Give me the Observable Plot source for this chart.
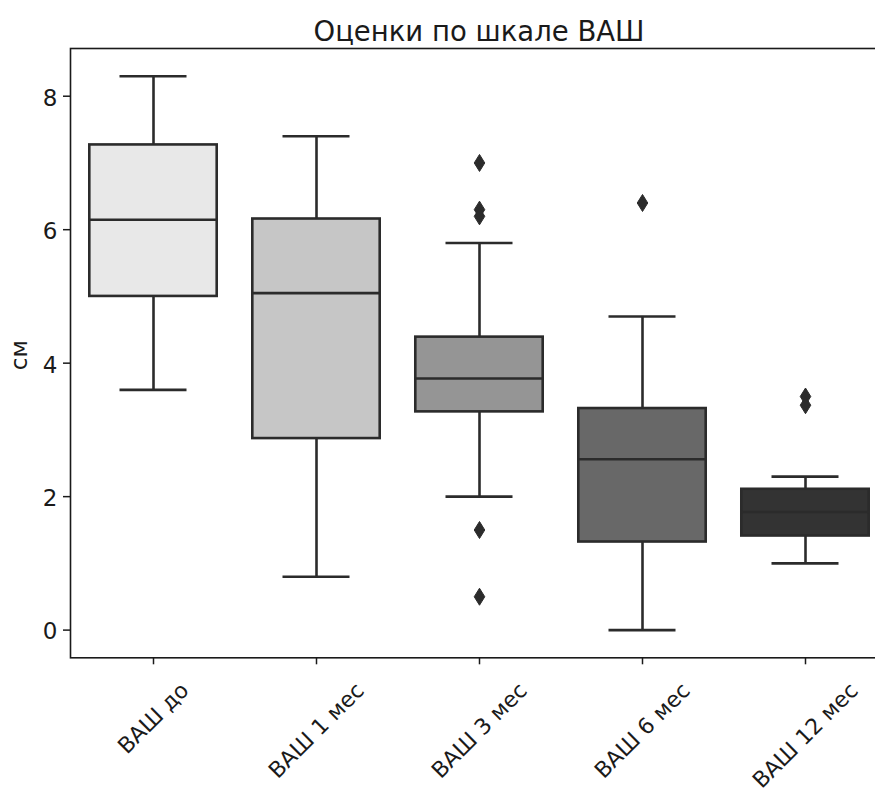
<!DOCTYPE html>
<html><head><meta charset="utf-8">
<script src="https://cdn.jsdelivr.net/npm/d3@7"></script>
<script src="https://cdn.jsdelivr.net/npm/@observablehq/plot@0.6"></script>
<style>
html,body{margin:0;padding:0;background:#fff;overflow:hidden;width:875px;height:789px;}
#title{box-sizing:border-box;height:47px;padding-top:14px;line-height:34px;margin-left:70px;width:818px;text-align:center;font-family:"DejaVu Sans";font-size:27.5px;color:#1a1a1a;white-space:nowrap;}
#chart svg{overflow:visible;}
</style></head><body>
<div id="title">Оценки по шкале ВАШ</div>
<div id="chart"></div>
<script>
// categories and box statistics (cm)
const categories = ["ВАШ до", "ВАШ 1 мес", "ВАШ 3 мес", "ВАШ 6 мес", "ВАШ 12 мес"];
const whiskerLow  = [3.6, 0.8, 2.0, 0.0, 1.0];
const q1          = [5.0, 2.87, 3.27, 1.32, 1.41];
const median      = [6.15, 5.05, 3.77, 2.56, 1.77];
const q3          = [7.27, 6.16, 4.39, 3.32, 2.11];
const whiskerHigh = [8.3, 7.4, 5.8, 4.7, 2.3];
// outliers
const outlierCat = ["ВАШ 3 мес", "ВАШ 3 мес", "ВАШ 3 мес", "ВАШ 3 мес", "ВАШ 3 мес", "ВАШ 6 мес", "ВАШ 12 мес", "ВАШ 12 мес"];
const outlierVal = [7.0, 6.3, 6.2, 1.5, 0.5, 6.4, 3.5, 3.37];
// axis ticks
const yTicks = [0, 2, 4, 6, 8];
const yLabel = "см";

// styles
const palette = ["#e8e8e8", "#c6c6c6", "#959595", "#686868", "#333333"];
const lineColor = "#2b2b2b";
const textColor = "#1a1a1a";
const lw = 2.6;
const fontSize = 23;
const xFontSize = 22;

const boxes = categories.map((c, i) => ({cat: c, lo: whiskerLow[i], q1: q1[i], med: median[i], q3: q3[i], hi: whiskerHigh[i]}));
const outliers = outlierCat.map((c, i) => ({cat: c, v: outlierVal[i]}));

const thinDiamond = {
  draw(ctx, size) {
    const r = Math.sqrt(size / Math.PI), w = r * 0.62;
    ctx.moveTo(0, -r); ctx.lineTo(w, 0); ctx.lineTo(0, r); ctx.lineTo(-w, 0); ctx.closePath();
  }
};

const measure = document.createElement("canvas").getContext("2d");
measure.font = xFontSize + "px 'DejaVu Sans'";
const xLabelMarks = categories.map(c => {
  const L = measure.measureText(c).width;
  return Plot.text([c], {
    x: d => d, text: d => d, frameAnchor: "bottom", rotate: -45,
    textAnchor: "middle", lineAnchor: "middle", dy: 29 + 0.354 * L,
    fontSize: xFontSize, fill: textColor
  });
});

const chart = Plot.plot({
  width: 875,
  height: 742,
  marginTop: 1,
  marginBottom: 131.7,
  marginLeft: 70,
  marginRight: -13,
  style: {fontFamily: "DejaVu Sans", fontSize: fontSize + "px", color: textColor, background: "white"},
  x: {type: "band", domain: categories, paddingInner: 0.2, paddingOuter: 0.1, label: null},
  y: {domain: [-0.415, 8.715], label: null},
  color: {domain: categories, range: palette},
  marks: [
    Plot.ruleX(boxes, {x: "cat", y1: "q3", y2: "hi", stroke: lineColor, strokeWidth: lw}),
    Plot.ruleX(boxes, {x: "cat", y1: "lo", y2: "q1", stroke: lineColor, strokeWidth: lw}),
    Plot.barY(boxes, {x: "cat", y1: "q1", y2: "q3", fill: "cat", stroke: lineColor, strokeWidth: lw, insetLeft: 1.3, insetRight: 1.3}),
    Plot.tickY(boxes, {x: "cat", y: "med", stroke: lineColor, strokeWidth: lw, insetLeft: 1.3, insetRight: 1.3}),
    Plot.tickY(boxes, {x: "cat", y: "hi", stroke: lineColor, strokeWidth: lw, insetLeft: 31.5, insetRight: 31.5}),
    Plot.tickY(boxes, {x: "cat", y: "lo", stroke: lineColor, strokeWidth: lw, insetLeft: 31.5, insetRight: 31.5}),
    Plot.dot(outliers, {x: "cat", y: "v", symbol: thinDiamond, r: 8.5, fill: lineColor, stroke: lineColor, strokeWidth: 1}),
    Plot.frame({stroke: textColor, strokeWidth: 1.6}),
    Plot.axisY({ticks: yTicks, tickSize: 7, tickFormat: () => "", stroke: textColor, strokeWidth: 1.5}),
    Plot.axisX({tickSize: 7, tickFormat: () => "", stroke: textColor, strokeWidth: 1.5}),
    Plot.text(yTicks, {y: d => d, text: d => String(d), frameAnchor: "left", textAnchor: "end", dx: -13, dy: 2, fontSize, fill: textColor}),
    Plot.text([yLabel], {text: d => d, frameAnchor: "left", rotate: -90, textAnchor: "middle", lineAnchor: "middle", dx: -50.5, dy: 2, fontSize, fill: textColor}),
    ...xLabelMarks
  ]
});
document.getElementById("chart").appendChild(chart);
</script>
</body></html>
